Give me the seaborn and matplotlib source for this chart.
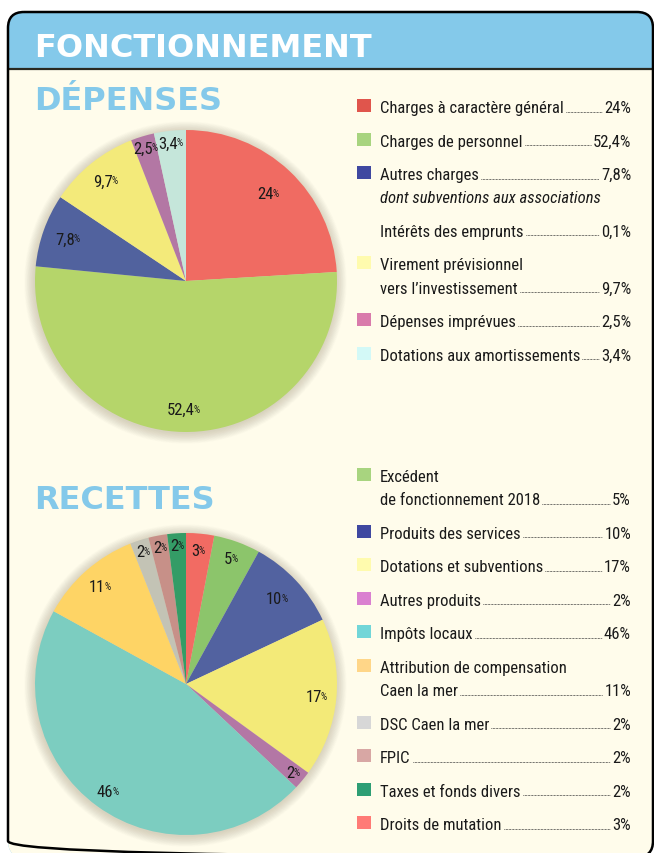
import matplotlib
matplotlib.use("Agg")
import numpy as np
import matplotlib.pyplot as plt
from matplotlib import font_manager
from matplotlib.patches import FancyBboxPatch, Rectangle, Circle
import seaborn as sns

# ---- data ----
dep_labels = ["Charges à caractère général", "Charges de personnel", "Autres charges",
              "Virement prévisionnel\nvers l’investissement", "Dépenses imprévues",
              "Dotations aux amortissements"]
dep_values = [24, 52.4, 7.8, 9.7, 2.5, 3.4]
dep_note = "dont subventions aux associations"
dep_extra_label = "Intérêts des emprunts"
dep_extra_value = 0.1

rec_labels = ["Excédent\nde fonctionnement 2018", "Produits des services", "Dotations et subventions",
              "Autres produits", "Impôts locaux", "Attribution de compensation\nCaen la mer",
              "DSC Caen la mer", "FPIC", "Taxes et fonds divers", "Droits de mutation"]
rec_values = [5, 10, 17, 2, 46, 11, 2, 2, 2, 3]

# ---- colours ----
dep_pie_colors = ["#F06B62", "#B5D56A", "#51629E", "#F3EA7A", "#B377A4", "#C5E6DA"]
dep_key_colors = ["#E0554C", "#A8D47F", "#3F48A0", "#FFFBAE", "#D97BAB", "#D3F9F7"]
rec_pie_colors = ["#8CC56B", "#5262A0", "#F3EA78", "#B377A5", "#7CCDC0", "#FED465",
                  "#C3C3B5", "#C79088", "#349C66", "#F26B63"]
rec_key_colors = ["#A8D47F", "#3F48A0", "#FFFBAE", "#DA80D0", "#72D6D8", "#FFD688",
                  "#D7D7D7", "#D8A7A4", "#2E9E74", "#FF7B76"]
CREAM = "#FFFCEB"
BLUE = "#84C9EA"

sns.set_style("white")
names = {f.name for f in font_manager.fontManager.ttflist}
body_font = next((n for n in ["Liberation Sans Narrow", "Roboto Condensed"] if n in names), "DejaVu Sans")
head_font = "DejaVu Sans"
plt.rcParams["font.family"] = [body_font, "DejaVu Sans"]

W, H = 654, 854
fig = plt.figure(figsize=(W / 100, H / 100), dpi=100)
fig.patch.set_facecolor("white")
bg = fig.add_axes([0, 0, 1, 1])
bg.set_xlim(0, W)
bg.set_ylim(H, 0)
bg.axis("off")

# frame with blue header
box = FancyBboxPatch((8, 13), 645, 845, boxstyle="round,pad=0,rounding_size=16",
                     fc=BLUE, ec="none", zorder=0)
bg.add_patch(box)
body = Rectangle((0, 70), W, H, fc=CREAM, ec="none", zorder=0.5)
bg.add_patch(body)
body.set_clip_path(box)
bg.plot([8, 653], [70, 70], color="#2a2a22", lw=1.6, zorder=1)
bg.add_patch(FancyBboxPatch((8, 13), 645, 845, boxstyle="round,pad=0,rounding_size=16",
                            fc="none", ec="black", lw=1.8, zorder=2))

bg.text(34, 57, "FONCTIONNEMENT", color="white", fontsize=23, fontweight="bold",
        family=head_font, va="baseline")
bg.text(34, 110, "DÉPENSES", color=BLUE, fontsize=23, fontweight="bold",
        family=head_font, va="baseline")
bg.text(34, 509, "RECETTES", color=BLUE, fontsize=23, fontweight="bold",
        family=head_font, va="baseline")


def fmt(v):
    return f"{v:g}".replace(".", ",")


def draw_pie(cx, cy, r, values, colors, start, dists):
    ax = fig.add_axes([(cx - r) / W, (H - cy - r) / H, 2 * r / W, 2 * r / H])
    for k in range(16):
        ax.add_patch(Circle((-0.004, -0.01), 1.0 + 0.0045 * k, fc="#6b6048",
                            alpha=0.016, ec="none", zorder=0, clip_on=False))
    wedges, _ = ax.pie(values, colors=sns.color_palette(colors), startangle=start,
                       counterclock=False, wedgeprops=dict(linewidth=0))
    for w in wedges:
        w.set_zorder(1)
    ax.set_xlim(-1, 1)
    ax.set_ylim(-1, 1)
    ax.axis("off")
    nums = []
    for w, v, d in zip(wedges, values, dists):
        th = np.deg2rad((w.theta1 + w.theta2) / 2)
        t = ax.text(d * np.cos(th) - 0.02, d * np.sin(th), fmt(v), ha="center", va="center",
                    fontsize=12, color="#1a1a1a", zorder=3)
        nums.append(t)
    return nums


dep_nums = draw_pie(186, 282, 151, dep_values, dep_pie_colors, 90,
                    [0.80, 0.85, 0.83, 0.85, 0.92, 0.92])
rec_nums = draw_pie(186, 685, 151, rec_values, rec_pie_colors,
                    90 - 360 * rec_values[-1] / sum(rec_values),
                    [0.88, 0.83, 0.87, 0.92, 0.88, 0.86, 0.92, 0.92, 0.92, 0.89])

# overlay for superscripts and leader dots
top = fig.add_axes([0, 0, 1, 1])
top.set_xlim(0, W)
top.set_ylim(H, 0)
top.axis("off")
top.patch.set_alpha(0)

# ---- legends ----
ROW, LINE = 33.5, 23.3
FS = 12


def legend(y0, rows):
    out = []
    y = y0
    first = True
    for lines, value, color, italic in rows:
        if not first:
            y += LINE if italic else ROW
        first = False
        if color is not None:
            bg.add_patch(Rectangle((357, y - 13), 14, 13, fc=color, ec="none", zorder=3))
        ts = []
        for k, line in enumerate(lines.split("\n")):
            if k:
                y += LINE
            ts.append(bg.text(380, y, line, fontsize=FS, va="baseline", color="#1a1a1a",
                              style="italic" if italic else "normal", zorder=3))
        if value is not None:
            vt = bg.text(631, y, fmt(value) + "%", fontsize=FS, ha="right",
                         va="baseline", color="#1a1a1a", zorder=3)
            out.append((ts[-1], vt, y))
    return out


dep_rows = [(dep_labels[0], dep_values[0], dep_key_colors[0], False),
            (dep_labels[1], dep_values[1], dep_key_colors[1], False),
            (dep_labels[2], dep_values[2], dep_key_colors[2], False),
            (dep_note, None, None, True),
            (dep_extra_label, dep_extra_value, None, False),
            (dep_labels[3], dep_values[3], dep_key_colors[3], False),
            (dep_labels[4], dep_values[4], dep_key_colors[4], False),
            (dep_labels[5], dep_values[5], dep_key_colors[5], False)]
rec_rows = [(l, v, c, False) for l, v, c in zip(rec_labels, rec_values, rec_key_colors)]

leaders = legend(113, dep_rows) + legend(482, rec_rows)

fig.canvas.draw()
renderer = fig.canvas.get_renderer()
inv = top.transData.inverted()

for lt, vt, y in leaders:
    x0 = inv.transform(lt.get_window_extent(renderer).p1)[0] + 2
    x1 = inv.transform(vt.get_window_extent(renderer).p0)[0] - 2
    top.plot([x0, x1], [y - 0.5, y - 0.5], color="#333333", lw=0.7,
             linestyle=(0, (0.7, 0.8)))

for t in dep_nums + rec_nums:
    bb = t.get_window_extent(renderer)
    px, py = inv.transform((bb.x1 - 1.0, bb.y1 - 2))
    top.text(px, py, "%", fontsize=7, va="top", ha="left", color="#1a1a1a")

fig.savefig("out.png", dpi=100, facecolor="white")
